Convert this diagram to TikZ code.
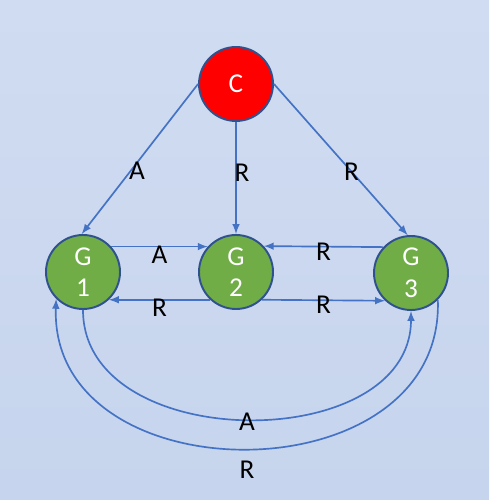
\documentclass[tikz,border=0pt]{standalone}
\usepackage{fontspec}
\setmainfont{Carlito}
\usepackage{tikz}
\usetikzlibrary{positioning}

\definecolor{bgtop}{RGB}{208,220,241}
\definecolor{bgmid}{RGB}{166,187,227}
\definecolor{bgbot}{RGB}{198,212,237}
\definecolor{edgeblue}{RGB}{68,114,196}
\definecolor{rimblue}{RGB}{47,82,143}
\definecolor{ggreen}{RGB}{112,173,71}
\definecolor{cred}{RGB}{255,0,0}

\begin{document}
\begin{tikzpicture}[
	state/.style={
		draw=rimblue,
		circle,
		line width=1.1pt,
		minimum size=1.48cm,
		inner sep=0pt,
		text=white,
		align=center,
		font=\fontsize{15.5}{18}\selectfont
	},
	trans/.style={
		draw=edgeblue,
		line width=0.95pt,
		-latex
	},
	lbl/.style={
		font=\fontsize{15.5}{18}\selectfont,
		inner sep=0pt
	}
	]
	\shade[top color=bgtop, middle color=bgmid, bottom color=bgbot] (0,0) rectangle (9.78,10);
	\useasboundingbox (0,0) rectangle (9.78,10);
	
	\node[state,fill=cred] (c) at (4.72,8.32) {C};
	\node[state,fill=ggreen] (g1) at (1.66,4.56) {G\\1};
	\node[state,fill=ggreen] (g2) at (4.72,4.56) {G\\2};
	\node[state,fill=ggreen] (g3) at (8.22,4.54) {G\\3};
	
	\draw[trans] (c.west) -- node[lbl,pos=0.58,xshift=0.13cm] {A} (g1.92);
	\draw[trans] (c.south) -- node[lbl,pos=0.45,xshift=0.12cm] {R} (g2.north);
	\draw[trans] (c.east) -- node[lbl,pos=0.58] {R} (g3.95);
	
	\draw[trans] (g1.42) -- node[lbl,midway,yshift=-0.16cm] {A} (g2.138);
	\draw[trans] (g2.-133) -- node[lbl,midway,yshift=-0.17cm] {R} (g1.-47);
	\draw[trans] (g3.137) -- node[lbl,midway,yshift=-0.11cm] {R} (g2.43);
	\draw[trans] (g2.-47) -- node[lbl,midway,yshift=-0.1cm] {R} (g3.-133);
	
	\draw[trans] (g1.south) .. controls +(0,-2.9) and +(0,-2.9) .. node[lbl,pos=0.5,yshift=-0.06cm] {A} (g3.south);
	\draw[trans] (g3.-45) .. controls +(0.14,-3.98) and +(-0.14,-3.98) .. node[lbl,pos=0.5,yshift=-0.42cm] {R} (g1.-135);
\end{tikzpicture}
\end{document}
